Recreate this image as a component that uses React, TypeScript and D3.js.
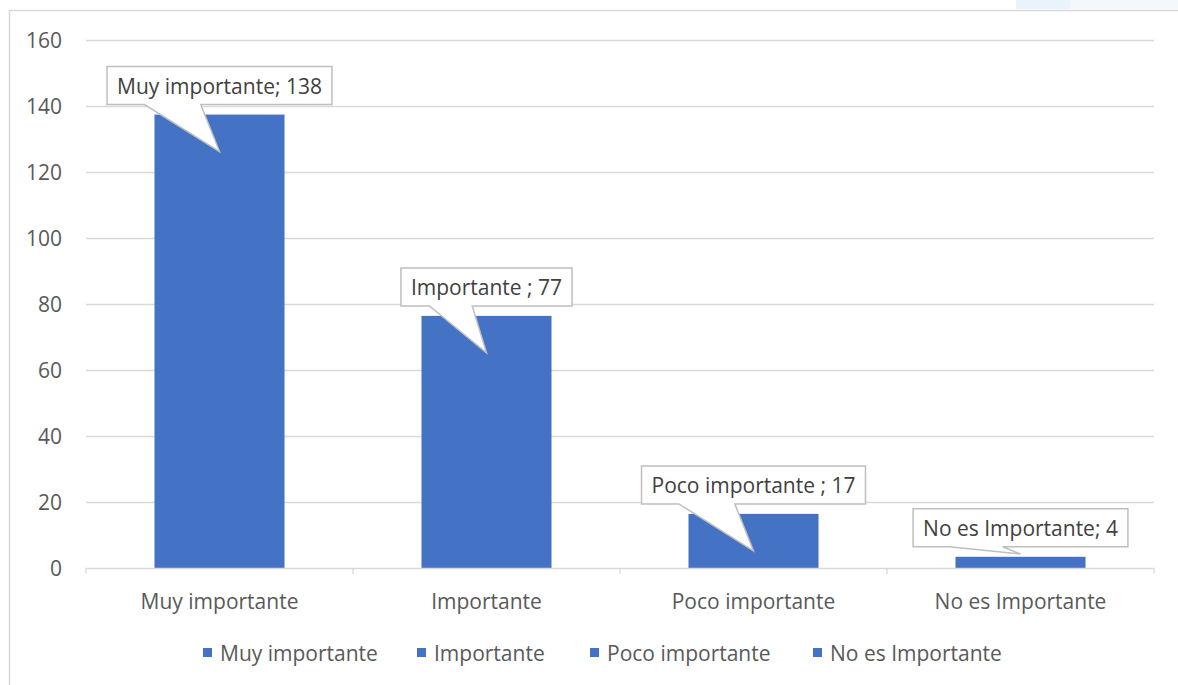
import { useEffect, useRef } from "react";
import * as d3 from "d3";

const categories = ["Muy importante", "Importante", "Poco importante", "No es Importante"];
const barValues = [137.4, 76.4, 16.4, 3.4];
const calloutLabels = ["Muy importante; 138", "Importante ; 77", "Poco importante ; 17", "No es Importante; 4"];
const yTicks = [0, 20, 40, 60, 80, 100, 120, 140, 160];

const BAR_COLOR = "#4472C4";
const GRID_COLOR = "#D9D9D9";
const TEXT_COLOR = "#595959";
const FONT = "'Open Sans', 'Noto Sans', sans-serif";
const FONT_SIZE = 21;

export default function App() {
	const svgRef = useRef<SVGSVGElement>(null);

	useEffect(() => {
		if (!svgRef.current) {
			return;
		}

		const width = 1178;
		const height = 685;
		const plot = { left: 86, right: 1154, top: 40, bottom: 568 };

		const svg = d3.select(svgRef.current);
		svg.selectAll("*").remove();

		svg.append("rect").attr("width", width).attr("height", height).attr("fill", "#ffffff");

		// leftover tab in the screenshot's top right corner
		svg.append("rect").attr("x", 1016).attr("y", 0).attr("width", 162).attr("height", 9).attr("fill", "#F4F8FD");
		svg.append("rect").attr("x", 1016).attr("y", 0).attr("width", 54).attr("height", 9).attr("fill", "#EAF2FB");

		// chart frame
		svg
			.append("path")
			.attr("d", `M9.5,${height} V10.5 H${width}`)
			.attr("fill", "none")
			.attr("stroke", GRID_COLOR)
			.attr("stroke-width", 1.5);

		const xScale = d3
			.scaleBand<string>()
			.domain(categories)
			.range([plot.left, plot.right])
			.paddingInner(0.513)
			.paddingOuter(0.2565);

		const yScale = d3.scaleLinear().domain([0, 160]).range([plot.bottom, plot.top]);

		const step = xScale.step();

		// gridlines
		svg
			.append("g")
			.selectAll("line")
			.data(yTicks.filter((t) => t > 0))
			.join("line")
			.attr("x1", plot.left)
			.attr("x2", plot.right)
			.attr("y1", (t) => Math.round(yScale(t)) + 0.5)
			.attr("y2", (t) => Math.round(yScale(t)) + 0.5)
			.attr("stroke", GRID_COLOR)
			.attr("stroke-width", 1.3);

		// y tick labels
		svg
			.append("g")
			.selectAll("text")
			.data(yTicks)
			.join("text")
			.attr("x", 62)
			.attr("y", (t) => yScale(t))
			.attr("text-anchor", "end")
			.attr("dominant-baseline", "central")
			.attr("font-family", FONT)
			.attr("font-size", FONT_SIZE)
			.attr("fill", TEXT_COLOR)
			.text((t) => t);

		// bars
		svg
			.append("g")
			.selectAll("rect")
			.data(categories)
			.join("rect")
			.attr("x", (c) => xScale(c) ?? 0)
			.attr("y", (_c, i) => yScale(barValues[i]))
			.attr("width", xScale.bandwidth())
			.attr("height", (_c, i) => yScale(0) - yScale(barValues[i]))
			.attr("fill", BAR_COLOR);

		// x axis line and ticks
		const axis = svg.append("g");
		axis
			.append("line")
			.attr("x1", plot.left)
			.attr("x2", plot.right)
			.attr("y1", plot.bottom + 0.5)
			.attr("y2", plot.bottom + 0.5)
			.attr("stroke", GRID_COLOR)
			.attr("stroke-width", 1.3);
		axis
			.selectAll("line.tick")
			.data(d3.range(categories.length + 1))
			.join("line")
			.attr("class", "tick")
			.attr("x1", (i) => plot.left + i * step)
			.attr("x2", (i) => plot.left + i * step)
			.attr("y1", plot.bottom)
			.attr("y2", plot.bottom + 6)
			.attr("stroke", GRID_COLOR)
			.attr("stroke-width", 1.3);

		// category labels
		svg
			.append("g")
			.selectAll("text")
			.data(categories)
			.join("text")
			.attr("x", (c) => (xScale(c) ?? 0) + xScale.bandwidth() / 2)
			.attr("y", 601)
			.attr("text-anchor", "middle")
			.attr("dominant-baseline", "central")
			.attr("font-family", FONT)
			.attr("font-size", FONT_SIZE)
			.attr("fill", TEXT_COLOR)
			.text((c) => c);

		// data callouts (Excel wedgeRectCallout)
		const callouts = svg.append("g");
		categories.forEach((c, i) => {
			const cx = (xScale(c) ?? 0) + xScale.bandwidth() / 2;
			const barTop = yScale(barValues[i]);
			const boxH = 38;
			const boxBottom = barTop - 10;
			const boxTop = boxBottom - boxH;

			const g = callouts.append("g");
			const label = g
				.append("text")
				.attr("x", cx)
				.attr("y", boxTop + boxH / 2)
				.attr("text-anchor", "middle")
				.attr("dominant-baseline", "central")
				.attr("font-family", FONT)
				.attr("font-size", FONT_SIZE)
				.attr("fill", "#404040")
				.text(calloutLabels[i]);

			const textW = (label.node() as SVGTextElement).getComputedTextLength();
			const boxW = textW + 20;
			const left = cx - boxW / 2;
			const right = cx + boxW / 2;
			const tipY = Math.min(barTop + 37, plot.bottom - 14);
			const x1 = left + boxW / 6;
			const x2 = left + (boxW * 5) / 12;

			g.insert("path", "text")
				.attr(
					"d",
					`M${left},${boxTop} H${right} V${boxBottom} H${x2} L${cx},${tipY} L${x1},${boxBottom} H${left} Z`
				)
				.attr("fill", "#ffffff")
				.attr("stroke", "#BFBFBF")
				.attr("stroke-width", 1.5)
				.attr("stroke-linejoin", "miter");
		});

		// legend
		const legendX = [203, 417, 590, 813];
		const legend = svg.append("g");
		categories.forEach((c, i) => {
			legend
				.append("rect")
				.attr("x", legendX[i])
				.attr("y", 648)
				.attr("width", 9)
				.attr("height", 9)
				.attr("fill", BAR_COLOR);
			legend
				.append("text")
				.attr("x", legendX[i] + 17)
				.attr("y", 653)
				.attr("dominant-baseline", "central")
				.attr("font-family", FONT)
				.attr("font-size", FONT_SIZE)
				.attr("fill", TEXT_COLOR)
				.text(c);
		});
	}, []);

	return (
		<svg
			ref={svgRef}
			width={1178}
			height={685}
			style={{ position: "absolute", left: 0, top: 0, display: "block" }}
		/>
	);
}
